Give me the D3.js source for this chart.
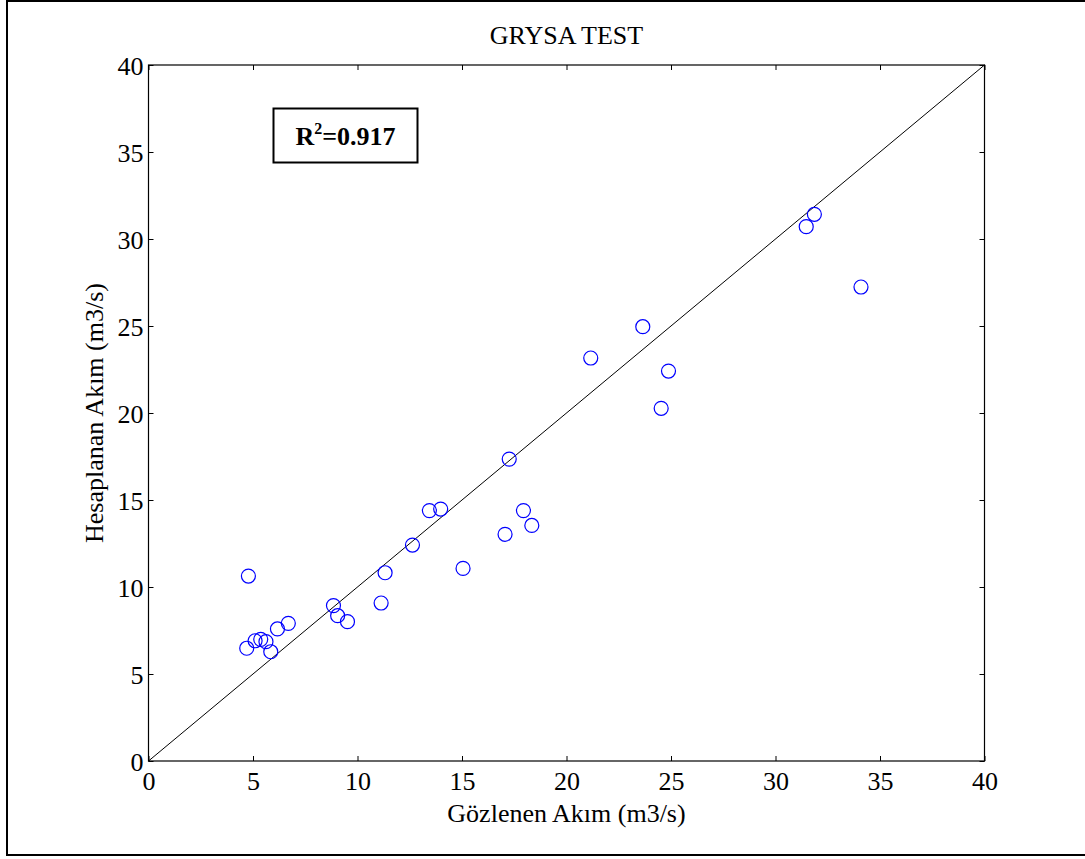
<!DOCTYPE html>
<html>
<head>
<meta charset="utf-8">
<script src="https://cdn.jsdelivr.net/npm/d3@7"></script>
<style>
  html, body { margin: 0; padding: 0; background: #fff; }
  svg { display: block; }
  text { font-family: "Liberation Serif", "Times New Roman", serif; fill: #000; }
</style>
</head>
<body>
<svg id="chart" width="1085" height="859"></svg>
<script>
// ---- data ----
const title = "GRYSA TEST";
const xLabel = "Gözlenen Akım (m3/s)";
const yLabel = "Hesaplanan Akım (m3/s)";
const r2Label = "0.917";
const tickValues = [0, 5, 10, 15, 20, 25, 30, 35, 40];
const observed = [4.78, 4.70, 5.10, 5.37, 5.62, 5.85, 6.17, 6.69, 8.85, 9.05, 9.52,
                  11.13, 11.32, 12.63, 13.44, 13.98, 15.05, 17.06, 17.26, 17.94, 18.34,
                  21.16, 23.65, 24.53, 24.88, 31.47, 31.86, 34.09];
const computed = [10.63, 6.48, 6.91, 6.99, 6.86, 6.28, 7.59, 7.91, 8.93, 8.35, 8.01,
                  9.08, 10.82, 12.41, 14.39, 14.48, 11.07, 13.03, 17.35, 14.39, 13.54,
                  23.16, 24.96, 20.27, 22.41, 30.71, 31.42, 27.24];
const refLine = [0, 40];

// ---- layout ----
const svg = d3.select("#chart");
const pLeft = 148.5, pRight = 984.5, pTop = 65, pBottom = 761;
const x = d3.scaleLinear().domain([0, 40]).range([pLeft, pRight]);
const y = d3.scaleLinear().domain([0, 40]).range([pBottom, pTop]);
const fs = 26;

// outer figure frame
svg.append("rect").attr("x", 7).attr("y", 1).attr("width", 1200).attr("height", 854)
  .attr("fill", "none").attr("stroke", "#000").attr("stroke-width", 2);

// axes (inward ticks)
const tl = 5;
svg.append("g").attr("transform", `translate(0,${pBottom})`)
  .call(d3.axisBottom(x).tickValues(tickValues).tickSizeInner(-tl).tickSizeOuter(0).tickPadding(0).tickFormat(d3.format("d")))
  .call(g => g.select(".domain").remove())
  .call(g => g.selectAll("text").attr("font-size", fs).attr("y", 29).attr("dy", 0).attr("font-family", "Liberation Serif"));
svg.append("g").attr("transform", `translate(0,${pTop})`)
  .call(d3.axisTop(x).tickValues(tickValues).tickSizeInner(-tl).tickSizeOuter(0).tickFormat(""))
  .call(g => g.select(".domain").remove());
svg.append("g").attr("transform", `translate(${pLeft},0)`)
  .call(d3.axisLeft(y).tickValues(tickValues).tickSizeInner(-tl).tickSizeOuter(0).tickFormat(d3.format("d")))
  .call(g => g.select(".domain").remove())
  .call(g => g.selectAll("text").attr("font-size", fs).attr("x", -5).attr("dy", 9).attr("font-family", "Liberation Serif"));
svg.append("g").attr("transform", `translate(${pRight},0)`)
  .call(d3.axisRight(y).tickValues(tickValues).tickSizeInner(-tl).tickSizeOuter(0).tickFormat(""))
  .call(g => g.select(".domain").remove());
svg.selectAll(".tick line").attr("stroke", "#000");

// plot box
svg.append("rect").attr("x", pLeft).attr("y", pTop).attr("width", pRight - pLeft).attr("height", pBottom - pTop)
  .attr("fill", "none").attr("stroke", "#000").attr("stroke-width", 1.2);

// 1:1 line
svg.append("line")
  .attr("x1", x(refLine[0])).attr("y1", y(refLine[0]))
  .attr("x2", x(refLine[1])).attr("y2", y(refLine[1]))
  .attr("stroke", "#000").attr("stroke-width", 1);

// points
svg.append("g").selectAll("circle").data(observed.map((v, i) => [v, computed[i]]))
  .join("circle")
  .attr("cx", d => x(d[0])).attr("cy", d => y(d[1])).attr("r", 7)
  .attr("fill", "none").attr("stroke", "#0000ff").attr("stroke-width", 1.2);

// titles
svg.append("text").attr("x", (pLeft + pRight) / 2).attr("y", 44).attr("text-anchor", "middle")
  .attr("font-size", fs).text(title);
svg.append("text").attr("x", (pLeft + pRight) / 2).attr("y", 822).attr("text-anchor", "middle")
  .attr("font-size", fs).text(xLabel);
svg.append("text").attr("transform", `translate(103,${(pTop + pBottom) / 2}) rotate(-90)`)
  .attr("text-anchor", "middle").attr("font-size", fs).text(yLabel);

// R^2 box
svg.append("rect").attr("x", 273.5).attr("y", 108.5).attr("width", 144).attr("height", 54)
  .attr("fill", "#fff").attr("stroke", "#000").attr("stroke-width", 2);
const t = svg.append("text").attr("x", 345.5).attr("y", 145).attr("text-anchor", "middle")
  .attr("font-size", fs).attr("font-weight", "bold");
t.append("tspan").text("R");
t.append("tspan").attr("font-size", 16).attr("dy", -11).text("2");
t.append("tspan").attr("dy", 11).text("=" + r2Label);
</script>
</body>
</html>
